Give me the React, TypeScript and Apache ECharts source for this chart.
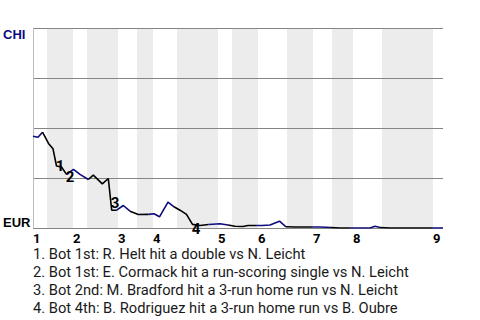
import React, { useEffect, useRef } from "react";
import * as echarts from "echarts";

// Inning labels and where each inning's top half starts (x in plate-appearance units)
const inningLabels = ["1", "2", "3", "4", "5", "6", "7", "8", "9"];
const inningStarts = [0, 8, 17, 24, 37, 45, 56, 64, 80];
// Half-inning starts (top, bottom, top, bottom, ...)
const halfStarts = [0, 2.8, 8, 10.8, 17, 20.8, 24, 28.8, 37, 39.8, 45, 50.8, 56, 59.8, 64, 69.8, 80];
const xMax = 82;

// Number of win-probability points recorded in each half inning
const pointsPerHalf = [3, 5, 3, 5, 2, 2, 4, 5, 2, 4, 4, 3, 2, 2, 4, 3, 2];

// CHI win probability over the game
const wpX = [
  0, 1.0, 1.9,
  3.1, 4.0, 4.7, 5.7, 6.7,
  8.1, 9.4, 11.06,
  12.06, 13.86, 15.06, 15.74, 16.74,
  18.06, 19.4,
  21.06, 23.1,
  24.2, 25.3, 27.0, 28.2,
  29.4, 30.7, 31.9, 33.4, 35.1,
  37.4, 39.0,
  40.4, 42.0, 43.0, 44.6,
  45.8, 47.4, 49.3, 50.6,
  52.4, 54.4, 55.8,
  57.4, 59.6,
  61.4, 63.4,
  65.4, 67.4, 68.4, 69.4,
  71.4, 75.4, 79.8,
  81, 82,
];
const wpY = [
  0.459, 0.454, 0.479,
  0.423, 0.396, 0.31, 0.305, 0.268,
  0.293, 0.268, 0.2425,
  0.264, 0.221, 0.2475, 0.089, 0.089,
  0.1125, 0.084,
  0.0675, 0.068,
  0.071, 0.056, 0.129, 0.106,
  0.089, 0.068, 0.018, 0.0125, 0.0175,
  0.021, 0.015,
  0.009, 0.0075, 0.0125, 0.0125,
  0.0125, 0.015, 0.034, 0.006,
  0.005, 0.005, 0.005,
  0.005, 0.0025,
  0.0, 0.0,
  0.0, 0.0, 0.009, 0.0025,
  0.0, 0.0, 0.0,
  0.0, 0.0,
];

// Key events
const eventNums = [1, 2, 3, 4];
const eventX = [5.4, 7.4, 16.4, 32.6];
const eventY = [0.3125, 0.2575, 0.1275, -0.0025];
const eventTexts = [
  "1. Bot 1st: R. Helt hit a double vs N. Leicht",
  "2. Bot 1st: E. Cormack hit a run-scoring single vs N. Leicht",
  "3. Bot 2nd: M. Bradford hit a 3-run home run vs N. Leicht",
  "4. Bot 4th: B. Rodriguez hit a 3-run home run vs B. Oubre",
];

const NAVY = "#0c0c7e";

export default function App() {
  const ref = useRef<HTMLDivElement>(null);

  useEffect(() => {
    if (!ref.current) return;
    document.body.style.margin = "0";
    const chart = echarts.init(ref.current, undefined, { renderer: "svg" });

    const pts = wpX.map((x, i) => [x, wpY[i]]);
    const lineSeries: any[] = [];
    let start = 0;
    pointsPerHalf.forEach((n, h) => {
      const data = pts.slice(start, start + n);
      if (start > 0) data.unshift(pts[start - 1]);
      start += n;
      lineSeries.push({
        type: "line",
        data,
        symbol: "none",
        lineStyle: { color: h % 2 === 0 ? NAVY : "#000000", width: 1.6 },
        z: 3,
      });
    });

    const bands: any[] = [];
    for (let h = 1; h < halfStarts.length; h += 2) {
      const end = h + 1 < halfStarts.length ? halfStarts[h + 1] : xMax;
      bands.push([{ xAxis: halfStarts[h] }, { xAxis: end }]);
    }

    chart.setOption({
      animation: false,
      grid: { left: 33, top: 28, width: 410, height: 200 },
      xAxis: {
        type: "value",
        min: 0,
        max: xMax,
        axisLine: { show: false },
        axisTick: { show: false },
        splitLine: { show: false },
        axisLabel: {
          customValues: inningStarts,
          formatter: (v: number) => {
            const i = inningStarts.findIndex((s) => Math.abs(s - v) < 1e-6);
            return i >= 0 ? inningLabels[i] : "";
          },
          align: "left",
          margin: 4,
          fontFamily: "Roboto",
          fontWeight: "bold",
          fontSize: 13,
          color: "#000",
        },
      },
      yAxis: {
        type: "value",
        min: 0,
        max: 1,
        interval: 0.25,
        axisLine: { show: true, lineStyle: { color: "#bdbdbd", width: 1 } },
        axisTick: { show: false },
        splitLine: { show: true, lineStyle: { color: "#858585", width: 1 } },
        axisLabel: {
          showMinLabel: true,
          showMaxLabel: true,
          align: "left",
          margin: 30,
          formatter: (v: number) => (v === 1 ? "{c|CHI}" : v === 0 ? "{e|EUR}" : ""),
          rich: {
            c: {
              color: NAVY,
              fontFamily: "Liberation Sans",
              fontWeight: "bold",
              fontSize: 13,
              padding: [12, 0, 0, 0],
            },
            e: {
              color: "#000",
              fontFamily: "Liberation Sans",
              fontWeight: "bold",
              fontSize: 13,
              padding: [0, 0, 12, 0],
            },
          },
        },
      },
      series: [
        {
          type: "line",
          data: [],
          z: -1,
          markArea: {
            silent: true,
            z: -1,
            itemStyle: { color: "#ececec" },
            data: bands,
          },
        },
        ...lineSeries,
        {
          type: "scatter",
          data: eventX.map((x, i) => [x, eventY[i], eventNums[i]]),
          symbolSize: 0,
          clip: false,
          z: 5,
          itemStyle: { color: "transparent", opacity: 1 },
          label: {
            show: true,
            position: "inside",
            formatter: (p: any) => String(p.value[2]),
            fontFamily: "Roboto",
            fontWeight: "bold",
            fontSize: 15,
            color: "#000",
            opacity: 1,
            textBorderWidth: 0,
          },
        },
      ],
      graphic: eventTexts.map((t, i) => ({
        type: "text",
        x: 33,
        y: 254 + i * 18,
        style: {
          text: t,
          font: "14.7px Roboto",
          fill: "#1a1a1a",
          verticalAlign: "middle",
        },
      })),
    });

    return () => chart.dispose();
  }, []);

  return <div ref={ref} style={{ width: 480, height: 320 }} />;
}
